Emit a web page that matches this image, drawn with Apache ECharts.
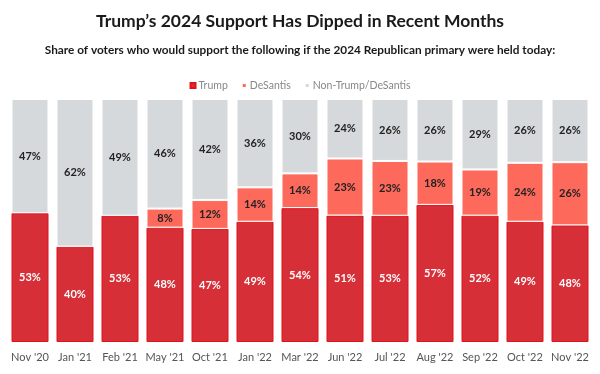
<!DOCTYPE html>
<html><head><meta charset="utf-8">
<script src="https://cdn.jsdelivr.net/npm/echarts@6/dist/echarts.min.js"></script>
<style>html,body{margin:0;padding:0;background:#fff}#c{width:600px;height:374px}</style>
</head><body><div id="c"></div>
<script>
const categories = ["Nov '20","Jan '21","Feb '21","May '21","Oct '21","Jan '22","Mar '22","Jun '22","Jul '22","Aug '22","Sep '22","Oct '22","Nov '22"];
const trump = [53,40,53,48,47,49,54,51,53,57,52,49,48];
const desantis = [0,0,0,8,12,14,14,23,23,18,19,24,26];
const nonTD = [47,62,49,46,42,36,30,24,26,26,29,26,26];

const totals = categories.map((_, i) => trump[i] + desantis[i] + nonTD[i]);
const share = (arr) => arr.map((v, i) => v === 0 ? null : v / totals[i] * 100);

const FONT = 'Lato';
function mk(name, raw, color, border, labelColor) {
  return {
    name, type: 'bar', stack: 'all', barWidth: 37,
    data: share(raw),
    itemStyle: { color, borderColor: border, borderWidth: 1 },
    label: {
      show: true, position: 'inside', fontFamily: FONT, fontWeight: 'bold', fontSize: 11,
      color: labelColor,
      formatter: p => raw[p.dataIndex] + '%'
    },
    emphasis: { disabled: true }
  };
}
const chart = echarts.init(document.getElementById('c'), null, { renderer: 'canvas' });
chart.setOption({
  animation: false,
  title: [
    { text: "Trump\u2019s 2024 Support Has Dipped in Recent Months", left: 'center', top: 7,
      textStyle: { fontFamily: FONT, fontSize: 17.5, fontWeight: 'bold', color: '#1a1a1a' } },
    { text: "Share of voters who would support the following if the 2024 Republican primary were held today:", left: 'center', top: 39,
      textStyle: { fontFamily: FONT, fontSize: 11.8, fontWeight: 'bold', color: '#1a1a1a' } }
  ],
  legend: {
    top: 75, left: 'center', itemWidth: 5, itemHeight: 5, itemGap: 13, icon: 'rect',
    textStyle: { fontFamily: FONT, fontSize: 10.5, color: '#888', padding: [0,0,0,-2] },
    data: ['Trump', 'DeSantis', 'Non-Trump/DeSantis']
  },
  grid: { left: 7.5, right: 7.5, top: 99, bottom: 32 },
  xAxis: {
    type: 'category', data: categories,
    axisLine: { show: false }, axisTick: { show: false },
    axisLabel: { interval: 0, fontFamily: FONT, fontSize: 11, color: '#555', margin: 10 }
  },
  yAxis: { type: 'value', min: 0, max: 100, show: false, splitLine: { show: false } },
  series: [
    mk('Trump', trump, '#d62f37', '#e3111b', '#fff'),
    mk('DeSantis', desantis, '#fd695a', '#ffffff', '#222'),
    mk('Non-Trump/DeSantis', nonTD, '#d6d9db', '#ffffff', '#222')
  ]
});
</script></body></html>
